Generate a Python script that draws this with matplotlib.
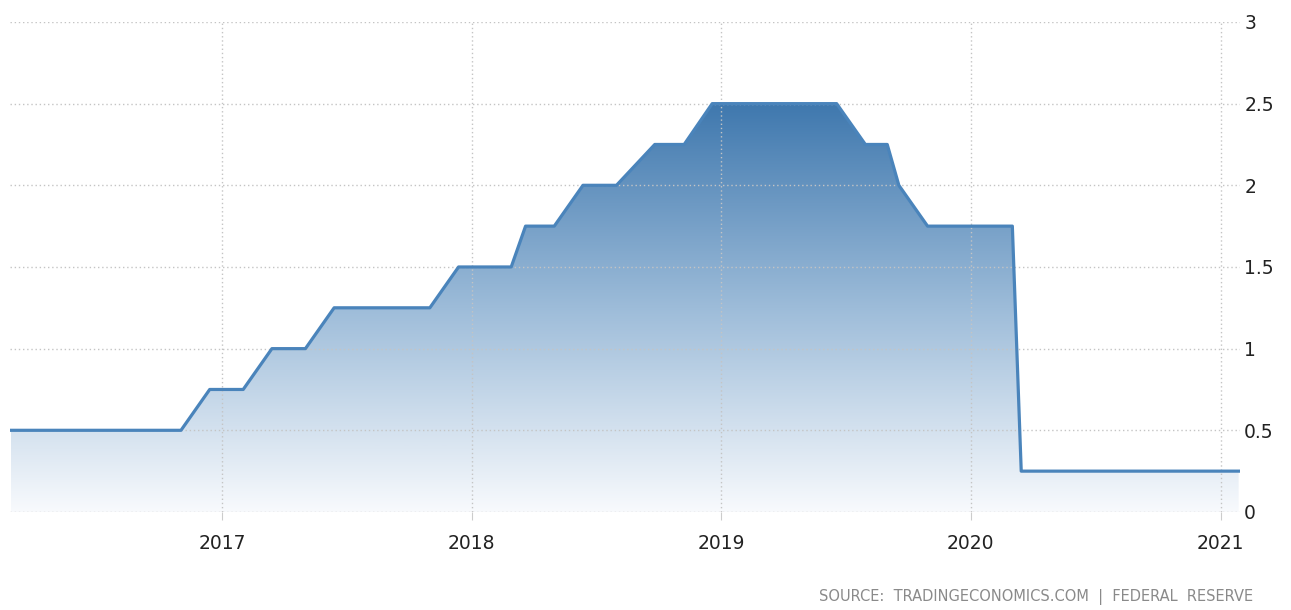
import numpy as np
import pandas as pd
import matplotlib
matplotlib.use("Agg")
import matplotlib.pyplot as plt
import matplotlib.dates as mdates
from matplotlib.colors import LinearSegmentedColormap

# Fed funds rate (upper bound)
dates = ["2016-02-27", "2016-11-02", "2016-12-14", "2017-02-01", "2017-03-15",
         "2017-05-03", "2017-06-14", "2017-11-01", "2017-12-13", "2018-02-28",
         "2018-03-21", "2018-05-02", "2018-06-13", "2018-08-01", "2018-09-26",
         "2018-11-08", "2018-12-19", "2019-06-19", "2019-07-31", "2019-09-01",
         "2019-09-18", "2019-10-30", "2020-03-02", "2020-03-15", "2021-01-27"]
rate = [0.5, 0.5, 0.75, 0.75, 1.0,
        1.0, 1.25, 1.25, 1.5, 1.5,
        1.75, 1.75, 2.0, 2.0, 2.25,
        2.25, 2.5, 2.5, 2.25, 2.25,
        2.0, 1.75, 1.75, 0.25, 0.25]
year_ticks = ["2017", "2018", "2019", "2020", "2021"]
y_ticks = [0, 0.5, 1, 1.5, 2, 2.5, 3]
y_labels = ["0", "0.5", "1", "1.5", "2", "2.5", "3"]

x = mdates.date2num(pd.to_datetime(dates))
y = np.array(rate)

fig = plt.figure(figsize=(12.91, 6.10), dpi=100)
ax = fig.add_axes([0.0078, 0.1607, 0.9527, 0.8033])

line_col = "#4a84bb"
ax.plot(x, y, color=line_col, lw=2.3, zorder=3, solid_joinstyle="round")

# gradient fill under the line
poly = ax.fill_between(x, y, 0, facecolor="none", edgecolor="none")
cmap = LinearSegmentedColormap.from_list("fill", ["#f8fafd", "#9dbcd9", "#3f78ae"])
grad = np.linspace(0, 1, 256).reshape(-1, 1)
img = ax.imshow(grad, extent=[x[0], x[-1], 0, y.max()], origin="lower",
                aspect="auto", cmap=cmap, zorder=1, interpolation="bicubic")
img.set_clip_path(poly.get_paths()[0], transform=ax.transData)

ax.set_xlim(mdates.date2num(pd.Timestamp("2016-02-26")),
            mdates.date2num(pd.Timestamp("2021-01-29")))
ax.set_ylim(0, 3)

ax.set_xticks(mdates.date2num(pd.to_datetime([t + "-01-01" for t in year_ticks])))
ax.set_xticklabels(year_ticks)
ax.set_yticks(y_ticks)
ax.set_yticklabels(y_labels)

ax.yaxis.tick_right()
ax.tick_params(axis="y", length=0, pad=3)
ax.tick_params(axis="x", length=6, color="#cccccc", pad=10)
for lab in ax.get_xticklabels() + ax.get_yticklabels():
    lab.set_fontsize(13.5)
    lab.set_color("#222222")

for s in ax.spines.values():
    s.set_visible(False)

ax.set_axisbelow("line")
ax.grid(True, color="#c4c4c4", linestyle=(0, (1, 2)), lw=1)

fig.text(0.9706, 0.021, "SOURCE:  TRADINGECONOMICS.COM  |  FEDERAL  RESERVE",
         ha="right", va="center", fontsize=10.5, color="#8a8a8a")

fig.savefig("out.png", dpi=100)
